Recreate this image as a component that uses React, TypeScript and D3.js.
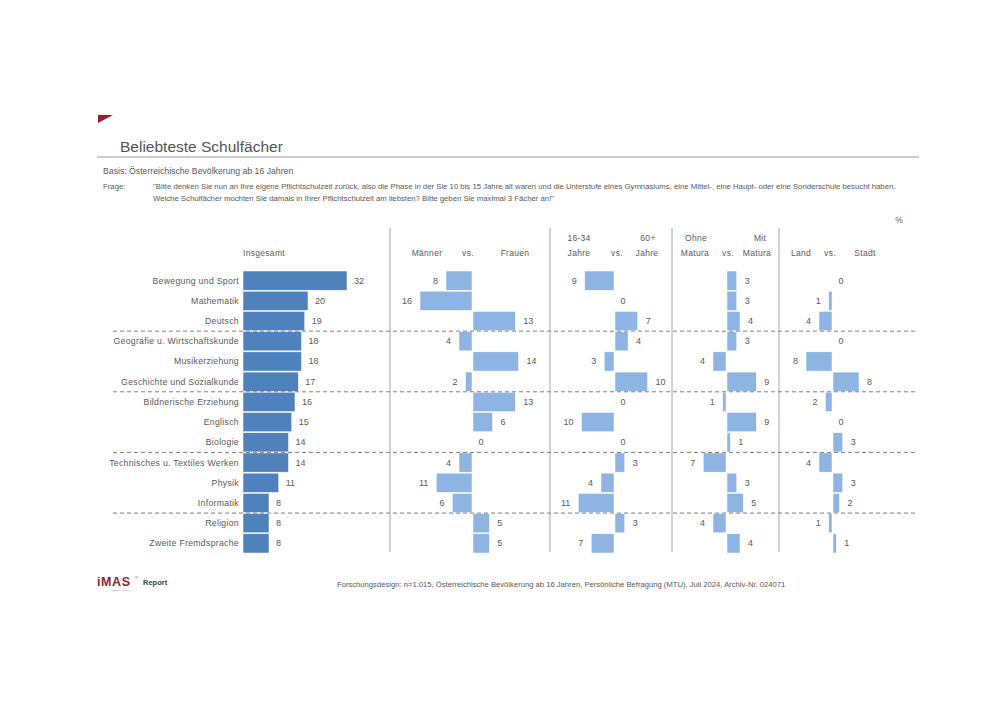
import React from "react";
import * as d3 from "d3";

const categories = [
  "Bewegung und Sport",
  "Mathematik",
  "Deutsch",
  "Geografie u. Wirtschaftskunde",
  "Musikerziehung",
  "Geschichte und Sozialkunde",
  "Bildnerische Erziehung",
  "Englisch",
  "Biologie",
  "Technisches u. Textiles Werken",
  "Physik",
  "Informatik",
  "Religion",
  "Zweite Fremdsprache",
];
const totalValues = [32, 20, 19, 18, 18, 17, 16, 15, 14, 14, 11, 8, 8, 8];
// negative = left group higher, positive = right group higher
const genderDiff = [-8, -16, 13, -4, 14, -2, 13, 6, 0, -4, -11, -6, 5, 5];
const ageDiff = [-9, 0, 7, 4, -3, 10, 0, -10, 0, 3, -4, -11, 3, -7];
const maturaDiff = [3, 3, 4, 3, -4, 9, -1, 9, 1, -7, 3, 5, -4, 4];
const regionDiff = [0, -1, -4, 0, -8, 8, -2, 0, 3, -4, 3, 2, -1, 1];
const groupBreaks = [3, 6, 9, 12];

const FONT = "'Liberation Sans', Arial, sans-serif";
const TXT = "#595959";
const DARK_BLUE = "#4f81bd";
const LIGHT_BLUE = "#8db4e2";

export default function App() {
  const W = 1000;
  const H = 707;
  const y = d3
    .scaleBand<string>()
    .domain(categories)
    .range([271, 553])
    .paddingInner(0.05);
  const step = y.step();
  const pxPerUnit = 3.25;
  const xTotal = d3.scaleLinear().domain([0, 32]).range([243, 243 + 32 * pxPerUnit]);

  const panels = [
    { axis: 472, data: genderDiff },
    { axis: 614, data: ageDiff },
    { axis: 726, data: maturaDiff },
    { axis: 832, data: regionDiff },
  ];

  const renderDiverging = (axis: number, data: number[], key: string) => {
    const xs = d3.scaleLinear().domain([-20, 20]).range([axis - 20 * pxPerUnit, axis + 20 * pxPerUnit]);
    return (
      <g key={key}>
        {data.map((v, i) => {
          const cat = categories[i];
          const y0 = y(cat)!;
          const cy = y0 + y.bandwidth() / 2 + 3;
          if (v === 0) {
            return (
              <text key={i} x={axis + 9} y={cy} fontSize={9} fill={TXT} textAnchor="middle" fontFamily={FONT}>
                0
              </text>
            );
          }
          const x1 = v < 0 ? xs(v) : xs(0) + 1;
          const x2 = v < 0 ? xs(0) : xs(v) + 1;
          return (
            <g key={i}>
              <rect x={x1} y={y0} width={x2 - x1} height={y.bandwidth()} fill={LIGHT_BLUE} stroke="#ffffff" strokeWidth={0.5} />
              <text
                x={v < 0 ? x1 - 8 : x2 + 8}
                y={cy}
                fontSize={9}
                fill={TXT}
                textAnchor={v < 0 ? "end" : "start"}
                fontFamily={FONT}
              >
                {Math.abs(v)}
              </text>
            </g>
          );
        })}
      </g>
    );
  };

  const headerTop = 241;
  const headerBottom = 256;

  return (
    <svg
      width={W}
      height={H}
      viewBox={`0 0 ${W} ${H}`}
      style={{ position: "absolute", left: 0, top: 0, background: "#fff" }}
      fontFamily={FONT}
    >
      <rect x={0} y={0} width={W} height={H} fill="#ffffff" />
      {/* red triangle */}
      <path d="M98,115 L113,115 L98,123 Z" fill="#9b1b30" />
      <text x={120} y={152} fontSize={15.5} fill="#555555">
        Beliebteste Schulfächer
      </text>
      <line x1={97} x2={919} y1={157} y2={157} stroke="#999999" strokeWidth={1.2} />
      <text x={103} y={174} fontSize={8.7} fill={TXT}>
        Basis:  Österreichische Bevölkerung ab 16 Jahren
      </text>
      <text x={103} y={189} fontSize={7.75} fill={TXT}>
        Frage:
      </text>
      <text x={153} y={189} fontSize={7.75} fill={TXT}>
        "Bitte denken Sie nun an Ihre eigene Pflichtschulzeit zurück, also die Phase in der Sie 10 bis 15 Jahre alt waren und die Unterstufe eines Gymnasiums, eine Mittel-, eine Haupt- oder eine Sonderschule besucht haben.
      </text>
      <text x={153} y={201} fontSize={7.75} fill={TXT}>
        Welche Schulfächer mochten Sie damals in Ihrer Pflichtschulzeit am liebsten? Bitte geben Sie maximal 3 Fächer an!"
      </text>
      <text x={899} y={223} fontSize={8.5} fill={TXT} textAnchor="middle">
        %
      </text>

      {/* headers */}
      <g fontSize={8.5} fill={TXT} textAnchor="middle" letterSpacing={0.3}>
        <text x={264} y={headerBottom}>Insgesamt</text>
        <text x={427} y={headerBottom}>Männer</text>
        <text x={468} y={headerBottom}>vs.</text>
        <text x={515} y={headerBottom}>Frauen</text>
        <text x={579} y={headerTop}>16-34</text>
        <text x={579} y={headerBottom}>Jahre</text>
        <text x={617} y={headerBottom}>vs.</text>
        <text x={648} y={headerTop}>60+</text>
        <text x={647} y={headerBottom}>Jahre</text>
        <text x={696} y={headerTop}>Ohne</text>
        <text x={695} y={headerBottom}>Matura</text>
        <text x={728} y={headerBottom}>vs.</text>
        <text x={760} y={headerTop}>Mit</text>
        <text x={757} y={headerBottom}>Matura</text>
        <text x={801} y={headerBottom}>Land</text>
        <text x={830} y={headerBottom}>vs.</text>
        <text x={865} y={headerBottom}>Stadt</text>
      </g>

      {/* panel vertical lines */}
      {[390, 550, 672, 779].map((x) => (
        <line key={x} x1={x} x2={x} y1={228} y2={552} stroke="#a6a6a6" strokeWidth={1} />
      ))}

      {/* category labels and total bars */}
      {categories.map((c, i) => {
        const y0 = y(c)!;
        const cy = y0 + y.bandwidth() / 2 + 3;
        return (
          <g key={c}>
            <text x={239} y={cy} fontSize={8.7} fill={TXT} textAnchor="end" letterSpacing={0.3}>
              {c}
            </text>
            <rect
              x={xTotal(0)}
              y={y0}
              width={xTotal(totalValues[i]) - xTotal(0)}
              height={y.bandwidth()}
              fill={DARK_BLUE}
              stroke="#ffffff"
              strokeWidth={0.5}
            />
            <text x={xTotal(totalValues[i]) + 7} y={cy} fontSize={9} fill={TXT}>
              {totalValues[i]}
            </text>
          </g>
        );
      })}

      {panels.map((p, k) => renderDiverging(p.axis, p.data, "p" + k))}

      {/* dashed separators */}
      {groupBreaks.map((b) => {
        const yy = y(categories[b])! - (step - y.bandwidth()) / 2;
        return (
          <line key={b} x1={113} x2={918} y1={yy} y2={yy} stroke="#808080" strokeWidth={1} strokeDasharray="4,3" />
        );
      })}

      {/* footer */}
      <text x={97} y={586} fontSize={12.5} fontWeight="bold" fill="#9b1b30" letterSpacing={0.6}>
        iMAS
      </text>
      <text x={135} y={579} fontSize={4} fill="#9b1b30">®</text>
      <text x={143} y={585} fontSize={7.5} fontWeight="bold" fill="#404040">
        Report
      </text>
      <text x={111} y={591} fontSize={2.5} fill="#999999">INTERNATIONAL</text>
      <text x={337} y={587} fontSize={7.65} fill={TXT}>
        Forschungsdesign: n=1.015, Österreichische  Bevölkerung ab 16 Jahren, Persönliche Befragung (MTU), Juli 2024, Archiv-Nr. 024071
      </text>
    </svg>
  );
}
